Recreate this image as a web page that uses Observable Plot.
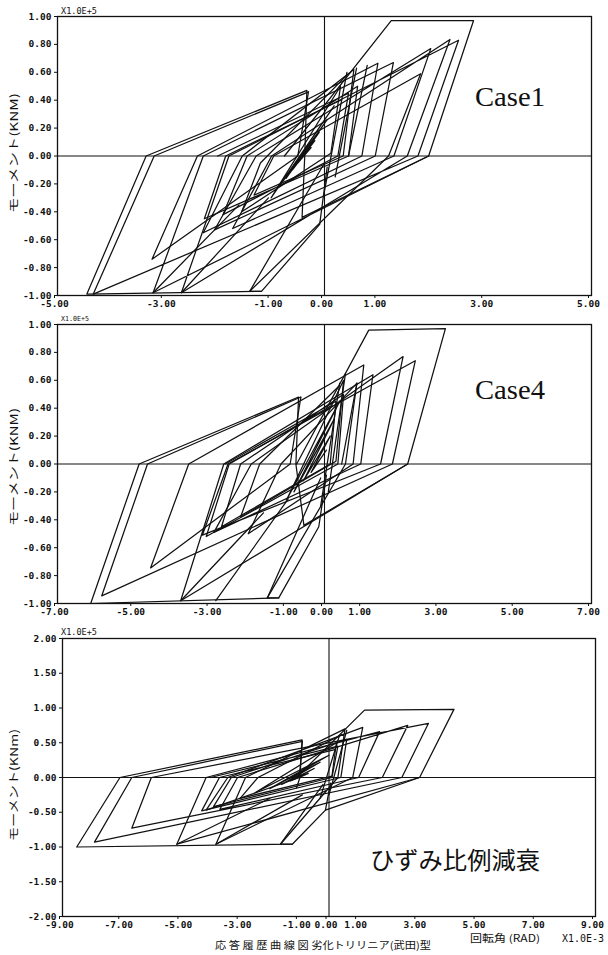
<!DOCTYPE html>
<html><head><meta charset="utf-8">
<script src="https://cdn.jsdelivr.net/npm/d3@7"></script>
<script src="https://cdn.jsdelivr.net/npm/@observablehq/plot@0.6"></script>
<style>
html,body{margin:0;padding:0;background:#fff;}
#wrap{position:relative;width:608px;height:955px;overflow:hidden;background:#fff;}
.panel{position:absolute;left:0;overflow:visible;}
#overlay{position:absolute;left:0;top:0;pointer-events:none;}
</style></head><body><div id="wrap"></div>
<script>
// ---------- data (x: rotation ×1.0E-3 rad, y: moment ×1.0E+5) ----------
const case1XTicks = [-5, -3, -1, 0, 1, 3, 5];
const case4XTicks = [-7, -5, -3, -1, 0, 1, 3, 5, 7];
const case3XTicks = [-9, -7, -5, -3, -1, 0, 1, 3, 5, 7, 9];
const yTicks1 = [-1, -0.8, -0.6, -0.4, -0.2, 0, 0.2, 0.4, 0.6, 0.8, 1];
const yTicks3 = [-2, -1.5, -1, -0.5, 0, 0.5, 1, 1.5, 2];

const case1Loops = [
  [[0.05,-0.08],[-0.09,-0.49],[-1.18,-0.97],[-4.45,-0.99],[-3.34,0],[-0.33,0.47],[-0.37,0],[-0.42,-0.44],[1.95,0],[2.79,0.97],[1.25,0.97],[-0.75,0]],
  [[1.95,0],[-3.21,-0.98],[-2.27,0],[1.29,0.67],[0.95,0],[-2.06,-0.53],[-1.28,0],[1.99,0.77],[1.30,0],[-1.72,-0.52],[-0.99,0],[2.35,0.835],[1.55,0],[-2.68,-0.98],[-1.79,0],[2.51,0.83],[1.75,0],[-4.33,-0.99],[-3.19,0],[-0.30,0.46]],
  [[-0.30,0.46],[-0.50,0],[-3.23,-0.74],[-2.38,0],[1.00,0.665],[0.70,0],[-2.27,-0.55],[-1.54,0],[0.55,0.62],[0.35,0],[-1.32,-0.28],[-0.95,0],[1.80,0.59],[1.20,0],[-1.40,-0.97],[-1.18,-0.97]],
  [[-0.40,0],[-0.25,0.06],[-0.50,-0.05],[-0.18,0.11],[-0.60,-0.10],[-0.10,0.17],[-0.72,-0.16],[0.05,0.26],[-0.85,-0.22],[0.18,0.36],[-1.00,-0.30],[0.30,0.50],[0.12,0.02],[-1.55,-0.40],[-1.20,-0.05],[0.42,0.58]],
  [[-2.00,0],[0.45,0.45],[0.25,0],[-1.90,-0.42],[-1.45,0],[0.62,0.50],[0.45,0],[-2.25,-0.45],[-1.85,0],[0.30,0.40]],
  [[-3.21,-0.98],[-1.60,-0.35]],
  [[-2.68,-0.98],[-1.05,-0.30]],
  [[-1.40,-0.97],[0.00,-0.05]],
  [[0.60,0.63],[0.20,-0.15]],
  [[0.42,0.60],[0.00,-0.25]],
  [[0.80,0.65],[0.45,0.00]]
];

const case4Loops = [
  [[0.05,-0.08],[-0.15,-0.45],[-1.20,-0.96],[-6.13,-1.00],[-4.86,0],[-0.68,0.48],[-0.75,0],[-0.54,-0.44],[2.18,0],[3.17,0.97],[1.16,0.96],[-0.73,0]],
  [[2.18,0],[-3.77,-0.98],[-2.64,0],[1.27,0.64],[0.95,0],[-2.90,-0.49],[-1.92,0],[2.06,0.77],[1.47,0],[-3.20,-0.51],[-2.53,0],[2.38,0.74],[1.78,0],[-5.84,-0.945],[-4.64,0],[-0.62,0.48]],
  [[-0.62,0.48],[-0.90,0],[-4.56,-0.745],[-3.56,0],[1.03,0.71],[0.75,0],[-2.00,-0.50],[-1.14,0],[0.85,0.58],[0.55,0],[-1.50,-0.96],[-1.20,-0.96]],
  [[-0.20,0],[0.05,0.10],[-0.35,-0.06],[0.15,0.20],[-0.55,-0.12],[0.25,0.32],[-0.80,-0.20],[0.40,0.45],[-1.00,-0.26],[0.50,0.60],[0.30,0.02],[-2.20,-0.38],[-1.70,0],[0.35,0.55]],
  [[-2.60,0],[0.30,0.45],[0.15,0],[-2.70,-0.45],[-2.20,0],[0.50,0.50],[0.35,0],[-3.10,-0.52],[-2.50,0],[0.20,0.42]],
  [[-3.77,-0.98],[-1.60,-0.35]],
  [[-2.85,-0.98],[-0.95,-0.25]],
  [[-1.50,-0.96],[-0.10,-0.10]],
  [[0.55,0.65],[0.10,-0.20]],
  [[0.40,0.58],[-0.10,-0.30]],
  [[0.85,0.58],[0.45,0.00]]
];

const case3Loops = [
  [[0.05,-0.08],[-0.12,-0.47],[-1.24,-0.96],[-8.52,-1.00],[-7.06,0],[-0.91,0.54],[-0.98,0],[-1.10,-0.15]],
  [[-0.12,-0.47],[3.06,0],[4.22,0.98],[1.20,0.97],[-1.10,0]],
  [[3.06,0],[-5.14,-0.96],[-4.15,0],[1.71,0.66],[1.00,0],[-3.69,-0.46],[-3.09,0],[2.66,0.75],[1.80,0],[-6.66,-0.73],[-6.00,0],[3.36,0.78],[2.46,0],[-7.92,-0.93],[-6.66,0],[-0.90,0.52]],
  [[-0.90,0.52],[-1.00,0],[-4.15,-0.47],[-3.42,0],[1.14,0.72],[0.80,0],[-3.82,-0.96],[-2.82,0],[0.54,0.70],[0.30,0],[-1.64,-0.96],[-1.24,-0.96]],
  [[-1.00,0],[-0.70,0.06],[-1.30,-0.05],[-0.50,0.13],[-1.60,-0.10],[-0.30,0.22],[-2.00,-0.16],[0.00,0.32],[-2.50,-0.22],[0.25,0.50],[0.10,0.02],[-3.00,-0.30],[-2.40,0],[0.45,0.62]],
  [[-4.00,0],[0.30,0.45],[0.10,0],[-3.90,-0.42],[-3.30,0],[0.60,0.55],[0.40,0],[-4.30,-0.48],[-3.70,0],[0.20,0.40]],
  [[-5.14,-0.96],[-2.00,-0.30]],
  [[-3.82,-0.96],[-0.90,-0.25]],
  [[-1.64,-0.96],[-0.20,-0.10]],
  [[0.60,0.68],[0.00,-0.25]],
  [[0.35,0.60],[-0.30,-0.30]]
];

// ---------- drawing ----------
const wrap = document.getElementById("wrap");
const fmt = d => d.toFixed(2);

function panel({loops, xDomain, xTicks, yDomain, yTicksArr, top, height, mt, mb, ml, mr}) {
  const data = loops.flatMap((pts, i) => pts.map(([x, y]) => ({x, y, loop: i})));
  const chart = Plot.plot({
    width: 608, height,
    marginTop: mt, marginBottom: mb, marginLeft: ml, marginRight: mr,
    style: {fontFamily: "'DejaVu Sans Mono', monospace", fontSize: "9.5px", fontWeight: "bold", color: "#111", background: "transparent", overflow: "visible"},
    x: {domain: xDomain, label: null},
    y: {domain: yDomain, label: null},
    marks: [
      Plot.ruleX([0], {stroke: "#111", strokeWidth: 1.1}),
      Plot.ruleY([0], {stroke: "#111", strokeWidth: 1.1}),
      Plot.line(data, {x: "x", y: "y", z: "loop", stroke: "#111", strokeWidth: 1.25}),
      Plot.frame({stroke: "#111", strokeWidth: 1.3}),
      Plot.axisX({ticks: xTicks, tickFormat: fmt, tickSize: 3, tickPadding: 2, dx: -3, label: null}),
      Plot.axisY({ticks: yTicksArr, tickFormat: fmt, tickSize: 3, tickPadding: 3, label: null})
    ]
  });
  chart.classList.add("panel");
  chart.style.top = top + "px";
  wrap.appendChild(chart);
}

panel({loops: case1Loops, xDomain: [-5, 5], xTicks: case1XTicks, yDomain: [-1, 1], yTicksArr: yTicks1,
       top: 0, height: 320, mt: 16, mb: 25, ml: 57, mr: 17});
panel({loops: case4Loops, xDomain: [-7, 7], xTicks: case4XTicks, yDomain: [-1, 1], yTicksArr: yTicks1,
       top: 310, height: 310, mt: 14, mb: 17, ml: 57, mr: 17});
panel({loops: case3Loops, xDomain: [-9, 9], xTicks: case3XTicks, yDomain: [-2, 2], yTicksArr: yTicks3,
       top: 625, height: 305, mt: 13, mb: 14, ml: 62, mr: 13});

// ---------- annotations ----------
const svg = d3.select(wrap).append("svg").attr("id", "overlay").attr("width", 608).attr("height", 955);
function txt(s, x, y, o = {}) {
  const t = svg.append("text").attr("x", x).attr("y", y).text(s)
    .attr("font-family", o.font || "'DejaVu Sans Mono', monospace")
    .attr("font-size", o.size || 10)
    .attr("fill", "#111")
    .attr("text-anchor", o.anchor || "start")
    .attr("dominant-baseline", "middle");
  if (o.len) t.attr("textLength", o.len).attr("lengthAdjust", "spacingAndGlyphs");
  if (o.rot) t.attr("transform", `rotate(${o.rot},${x},${y})`);
  return t;
}
txt("X1.0E+5", 61, 11, {size: 9, len: 36});
txt("X1.0E+5", 61, 319, {size: 7, len: 28});
txt("X1.0E+5", 61, 632, {size: 9, len: 36});
const jp = "'Noto Sans CJK JP', sans-serif";
txt("モーメント(KNM)", 15, 153, {font: jp, size: 11, anchor: "middle", rot: -90, len: 120});
txt("モーメント(KNM)", 15, 467, {font: jp, size: 11, anchor: "middle", rot: -90, len: 118});
txt("モーメント(KNm)", 15, 785, {font: jp, size: 11, anchor: "middle", rot: -90, len: 112});
txt("Case1", 475, 100, {font: "'Liberation Serif', serif", size: 28, len: 70});
txt("Case4", 475, 393, {font: "'Liberation Serif', serif", size: 28, len: 70});
txt("ひずみ比例減衰", 370, 862, {font: jp, size: 24, len: 170});
txt("応 答 履 歴 曲 線 図  劣化トリリニア(武田)型", 215, 946, {font: jp, size: 10, len: 216});
txt("回転角 (RAD)", 470, 939, {font: jp, size: 10, len: 70});
txt("X1.0E-3", 562, 939, {size: 10, len: 42});
</script>
</body></html>
